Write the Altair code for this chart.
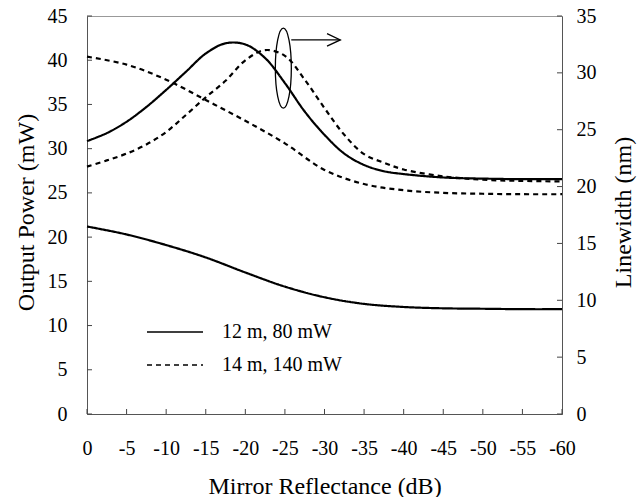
import altair as alt
import pandas as pd

FONT = "Liberation Serif"
W, H = 475, 398

# Series names
series = ["12 m, 80 mW", "14 m, 140 mW"]

# Output power (left axis, mW) versus mirror reflectance (dB)
refl_power = [0, -5, -10, -15, -20, -25, -30, -35, -40, -45, -50, -55, -60]
power_12m = [21.2, 20.3, 19.1, 17.7, 16.0, 14.4, 13.2, 12.45, 12.1, 11.95, 11.9, 11.85, 11.85]
power_14m = [40.4, 39.5, 37.8, 35.5, 33.15, 30.6, 27.6, 26.0, 25.3, 25.0, 24.9, 24.85, 24.85]

# Linewidth (right axis, nm) versus mirror reflectance (dB)
refl_lw = [0, -2.5, -5, -7.5, -10, -12.5, -15, -17.5, -20, -22.5, -25, -27.5, -30,
           -32.5, -35, -37.5, -40, -45, -50, -55, -60]
lw_12m = [24.0, 24.7, 25.7, 27.0, 28.5, 30.1, 31.7, 32.6, 32.5, 31.3, 29.1, 26.6, 24.55,
          22.9, 21.9, 21.35, 21.1, 20.8, 20.7, 20.65, 20.65]
lw_14m = [21.75, 22.3, 22.9, 23.7, 24.8, 26.3, 27.85, 29.3, 31.1, 32.0, 31.5, 29.4, 26.9,
          24.55, 22.85, 22.1, 21.5, 20.9, 20.6, 20.5, 20.45]

# Tick values
x_ticks = list(range(0, -61, -5))
power_ticks = list(range(0, 46, 5))
lw_ticks = list(range(0, 36, 5))

power_df = pd.DataFrame({
    "refl": refl_power * 2,
    "value": power_12m + power_14m,
    "series": [series[0]] * len(refl_power) + [series[1]] * len(refl_power),
})
lw_df = pd.DataFrame({
    "refl": refl_lw * 2,
    "value": lw_12m + lw_14m,
    "series": [series[0]] * len(refl_lw) + [series[1]] * len(refl_lw),
})

x_scale = alt.Scale(domain=[0, -60], nice=False, zero=False)
left_scale = alt.Scale(domain=[0, 45], nice=False)
right_scale = alt.Scale(domain=[0, 35], nice=False)
dash = alt.StrokeDash("series:N", scale=alt.Scale(domain=series, range=[[1, 0], [5, 4]]), legend=None)

x_axis = alt.Axis(values=x_ticks, labelExpr="'' + datum.value", title="Mirror Reflectance (dB)",
                  labelPadding=24, labelOverlap=False, labelFlush=False,
                  titleY=79, titleBaseline="alphabetic")
left_axis = alt.Axis(values=power_ticks, title="Output Power (mW)", orient="left", labelPadding=20,
                     labelOverlap=False, labelFlush=False,
                     titleX=-54, titleY=196, titleAngle=270, titleBaseline="alphabetic", titleAlign="center")
right_axis = alt.Axis(values=lw_ticks, title="Linewidth (nm)", orient="right", labelPadding=14,
                      labelOverlap=False, labelFlush=False,
                      titleX=68, titleY=196, titleAngle=270, titleBaseline="alphabetic", titleAlign="center")


def x_enc(field):
    # every layer shares the x scale and the single bottom axis
    return alt.X(field, scale=x_scale, axis=x_axis)


power_lines = alt.Chart(power_df).mark_line(color="black", strokeWidth=2.2, interpolate="catmull-rom").encode(
    x=x_enc("refl:Q"),
    y=alt.Y("value:Q", scale=left_scale, axis=left_axis),
    strokeDash=dash,
    detail="series:N",
)

lw_lines = alt.Chart(lw_df).mark_line(color="black", strokeWidth=2.2, interpolate="catmull-rom").encode(
    x=x_enc("refl:Q"),
    y=alt.Y("value:Q", scale=right_scale, axis=right_axis),
    strokeDash=dash,
    detail="series:N",
)

# Inward-pointing tick marks
tick_color = "#444"
x_tick_rules = alt.Chart(pd.DataFrame({"refl": x_ticks})).mark_rule(color=tick_color, strokeWidth=1).encode(
    x=x_enc("refl:Q"), y=alt.value(H), y2=alt.value(H - 5))
left_tick_rules = alt.Chart(pd.DataFrame({"t": power_ticks})).mark_rule(color=tick_color, strokeWidth=1).encode(
    y=alt.Y("t:Q", scale=left_scale, axis=None), x=alt.value(0), x2=alt.value(5))
right_tick_rules = alt.Chart(pd.DataFrame({"t": lw_ticks})).mark_rule(color=tick_color, strokeWidth=1).encode(
    y=alt.Y("t:Q", scale=right_scale, axis=None), x=alt.value(W - 5), x2=alt.value(W))

# Ellipse around the linewidth curves with an arrow pointing to the right axis
ellipse_at = pd.DataFrame({"refl": [-24.8], "value": [39.1]})
ellipse_path = ("M0,-1 C0.11,-1 0.2,-0.55 0.2,0 C0.2,0.55 0.11,1 0,1 "
                "C-0.11,1 -0.2,0.55 -0.2,0 C-0.2,-0.55 -0.11,-1 0,-1 Z")
ellipse = alt.Chart(ellipse_at).mark_point(shape=ellipse_path, size=6400, filled=False,
                                           color="black", strokeWidth=1.3, opacity=1).encode(
    x=x_enc("refl:Q"), y=alt.Y("value:Q", scale=left_scale, axis=None))

arrow_at = pd.DataFrame({"refl": [-25.8], "end": [-32.0], "value": [42.3]})
arrow_shaft = alt.Chart(arrow_at).mark_rule(color="black", strokeWidth=1.3).encode(
    x=x_enc("refl:Q"), x2="end:Q",
    y=alt.Y("value:Q", scale=left_scale, axis=None))
arrow_head = alt.Chart(arrow_at).mark_point(shape="M-1,-0.47 L0,0 L-1,0.47", size=708, filled=False,
                                            color="black", strokeWidth=1.3, opacity=1).encode(
    x=x_enc("end:Q"), y=alt.Y("value:Q", scale=left_scale, axis=None))

# Legend drawn inside the plot
legend_layers = []
for i, name in enumerate(series):
    row = pd.DataFrame({"series": [name]})
    y_pos = 316 + 33 * i
    legend_layers.append(alt.Chart(row).mark_rule(color="black", strokeWidth=1.6).encode(
        x=alt.value(60), x2=alt.value(116), y=alt.value(y_pos), strokeDash=dash))
    legend_layers.append(alt.Chart(row).mark_text(align="left", baseline="middle", font=FONT,
                                                  fontSize=20, color="black").encode(
        x=alt.value(135), y=alt.value(y_pos), text="series:N"))

# Every layer keeps its own y scale; helper layers reuse the same domains as the curves
chart = alt.layer(
    power_lines, lw_lines, x_tick_rules, left_tick_rules, right_tick_rules,
    ellipse, arrow_shaft, arrow_head, *legend_layers,
).resolve_scale(y="independent").properties(
    width=W, height=H,
    autosize=alt.AutoSizeParams(type="none"),
    padding={"left": 87, "top": 16, "right": 80, "bottom": 83},
    background="white",
).configure_axis(
    grid=False, ticks=False,
    labelFont=FONT, labelFontSize=20, labelColor="black",
    titleFont=FONT, titleFontSize=24, titleFontWeight="normal", titleColor="black",
    domainColor="#555", domainWidth=1,
).configure_view(stroke="#999", strokeWidth=1)

chart.save("out.html", embed_options={"renderer": "svg", "actions": False})
